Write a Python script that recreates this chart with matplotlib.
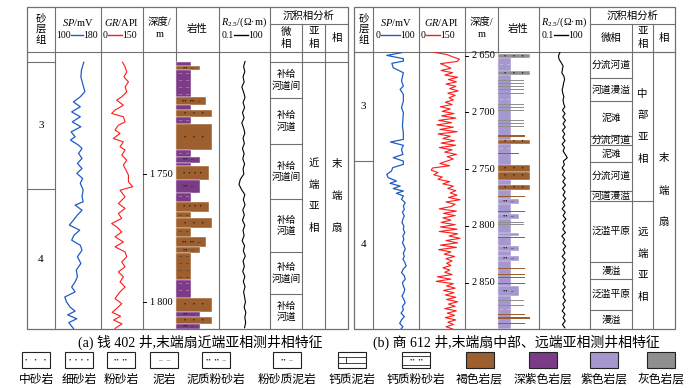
import numpy as np
import matplotlib
matplotlib.use("Agg")
import matplotlib.pyplot as plt
from matplotlib.patches import Rectangle

plt.rcParams["font.family"] = ["Liberation Serif", "Noto Sans CJK SC", "DejaVu Sans"]
plt.rcParams["mathtext.fontset"] = "custom"
plt.rcParams["mathtext.rm"] = "Liberation Serif"
plt.rcParams["mathtext.it"] = "Liberation Serif:italic"

W, H = 700, 388

# ---------------- well (a): Qian 402 ----------------
a_sp_depth = [1706.3, 1709.4, 1712.0, 1714.6, 1717.8, 1719.8, 1721.8, 1723.7, 1725.7, 1727.6,
              1729.6, 1731.5, 1733.5, 1735.4, 1736.7, 1738.7, 1740.0, 1741.9, 1743.9, 1745.8,
              1747.8, 1749.7, 1751.7, 1753.6, 1756.2, 1758.8, 1760.8, 1762.1, 1764.1, 1766.0,
              1768.0, 1769.9, 1771.9, 1773.9, 1775.8, 1777.8, 1779.7, 1782.3, 1784.9, 1787.5,
              1790.1, 1792.1, 1794.1, 1796.0, 1798.0, 1799.9, 1801.9, 1803.5, 1805.0, 1806.5,
              1808.0, 1810.3]
a_sp = [150, 146, 145, 148, 152, 144, 132, 144, 129, 144,
        130, 145, 128, 135, 127, 141, 147, 141, 147, 139,
        147, 138, 148, 144, 149, 147, 149, 135, 147, 139,
        132, 125, 143, 133, 129, 144, 147, 139, 145, 137,
        139, 135, 129, 135, 117, 120, 126, 135, 122, 138,
        124, 132]

a_gr_depth = [1706.3, 1708.1, 1710.1, 1712.0, 1714.0, 1715.9, 1717.9, 1719.8, 1721.1, 1723.1,
              1725.0, 1726.3, 1727.6, 1729.6, 1730.9, 1732.8, 1734.1, 1736.1, 1737.4, 1739.3,
              1740.6, 1742.6, 1744.5, 1746.5, 1748.4, 1750.4, 1753.0, 1754.9, 1756.3, 1758.9,
              1761.5, 1763.4, 1765.4, 1767.3, 1769.3, 1770.6, 1772.6, 1774.5, 1776.5, 1778.4,
              1780.4, 1782.3, 1784.3, 1786.2, 1788.2, 1790.1, 1792.1, 1794.1, 1796.0, 1798.6,
              1800.6, 1802.5, 1804.0, 1805.5, 1807.0, 1808.5, 1810.3]
a_gr = [77, 86, 92, 82, 98, 86, 92, 74, 56, 80,
        50, 38, 80, 86, 62, 50, 68, 44, 80, 68,
        86, 74, 92, 80, 89, 98, 98, 113, 68, 86,
        62, 86, 62, 74, 38, 56, 74, 50, 80, 50,
        86, 92, 74, 86, 62, 80, 68, 86, 68, 50,
        74, 56, 40, 70, 45, 75, 50]

# resistivity read every 2 m from 1706 m
a_rt = [3.4, 2.8, 3.3, 2.6, 3.0, 2.2, 2.8, 3.4, 2.6, 3.2,
        2.4, 3.0, 2.2, 2.8, 3.3, 2.6, 3.1, 2.4, 3.0, 2.5,
        3.2, 2.6, 2.9, 1.8, 1.5, 2.1, 3.3, 2.7, 3.4, 2.5,
        3.1, 2.4, 3.3, 2.6, 3.0, 2.3, 3.2, 2.7, 3.5, 2.6,
        3.1, 2.5, 3.3, 2.7, 3.4, 2.8, 3.2, 3.6, 3.0, 3.8,
        3.3, 3.7, 3.2]
a_rt_depth = list(range(1706, 1706 + 2 * len(a_rt), 2))

a_lith_top = [1706.1, 1707.8, 1709.4, 1720.0, 1723.0, 1725.0, 1727.6, 1730.5, 1740.6, 1743.2,
              1745.6, 1746.9, 1752.3, 1757.3, 1760.8, 1764.7, 1767.3, 1771.2, 1774.5, 1778.6,
              1780.7, 1791.4, 1798.2, 1803.9, 1805.9, 1808.4]
a_lith_base = a_lith_top[1:] + [1810.5]
a_lith_type = ["md", "stm", "md", "mst", "md", "ms", "md", "ms", "md", "stm",
               "md", "fs", "stm", "md", "fs", "md", "ms", "md", "mst", "stm",
               "md", "md", "ms", "stm", "ms", "stm"]
a_lith_color = ["dpurple", "brown", "dpurple", "brown", "dpurple", "brown", "dpurple", "brown", "dpurple", "dpurple",
                "dpurple", "brown", "dpurple", "dpurple", "brown", "brown", "brown", "brown", "brown", "brown",
                "brown", "dpurple", "brown", "dpurple", "brown", "dpurple"]

a_sand_top = [1706.3, 1755.9]
a_sand_names = ["3", "4"]
a_mf_top = [1706.3, 1720.4, 1738.4, 1759.9, 1780.4, 1797.0]
a_mf_names = ["补给\n河道间", "补给\n河道", "补给\n河道间", "补给\n河道", "补给\n河道间", "补给\n河道"]
a_sub_top = [1706.3]
a_sub_names = ["近端亚相"]
a_fac_names = ["末端扇"]
a_ticks = [1750, 1800]

# ---------------- well (b): Shang 612 ----------------
b_sp_depth = [2647.3, 2649.7, 2652.6, 2654.7, 2656.7, 2660.6, 2665.0, 2672.3, 2676.7, 2679.7,
              2684.1, 2690.0, 2695.8, 2700.2, 2706.1, 2712.0, 2717.9, 2723.8, 2726.1, 2729.0,
              2732.6, 2737.0, 2739.9, 2742.9, 2745.8, 2748.7, 2751.7, 2754.6, 2757.5, 2760.5,
              2762.5, 2764.9, 2767.2, 2769.3, 2771.3, 2773.7, 2776.6,
              2779.6, 2782.5, 2785.4, 2788.0, 2791.3, 2794.0, 2797.2, 2800.0, 2803.1, 2806.0,
              2809.0, 2811.9, 2815.0, 2818.0, 2820.7, 2824.0, 2827.0, 2829.5, 2832.0, 2835.4,
              2838.0, 2841.3, 2844.0, 2847.2, 2850.0, 2853.1, 2856.0, 2859.0, 2862.0, 2864.8,
              2868.0, 2871.0, 2874.0, 2877.0, 2880.0, 2883.0, 2886.0, 2889.0, 2891.0]
b_sp = [62, 30, 66, 66, 41, 44, 66, 62, 66, 59,
        66, 66, 62, 66, 65, 64, 66, 66, 38, 66,
        62, 65, 44, 66, 66, 43, 40, 30, 33, 51,
        37, 59, 44, 66, 51, 66, 62,
        70, 66, 68, 64, 68, 65, 63, 67, 66, 69,
        65, 67, 64, 68, 70, 66, 68, 65, 69, 72,
        66, 62, 68, 70, 64, 66, 69, 67, 63, 67,
        70, 64, 66, 61, 68, 62, 58, 65, 61]

# gamma ray read every 2 m from 2647 m
b_gr = [50, 92, 110, 132, 125, 70, 88, 104, 72, 110,
        84, 126, 96, 122, 88, 120, 100, 128, 94, 118,
        98, 112, 86, 108, 70, 102, 76, 114, 74, 120,
        64, 106, 58, 112, 68, 124, 62, 102, 78, 116,
        72, 120, 66, 108, 84, 122, 92, 112, 90, 68,
        100, 44, 40, 62, 48, 76, 62, 100, 78, 112,
        94, 120, 102, 124, 96, 134, 88, 118, 104, 66,
        122, 80, 118, 78, 104, 72, 118, 70, 124, 66,
        126, 98, 134, 88, 126, 70, 122, 64, 104, 82,
        116, 88, 108, 90, 104, 78, 100, 84, 108, 60,
        104, 56, 112, 90, 118, 80, 114, 86, 120, 90,
        126, 96, 118, 84, 122, 92, 116, 86, 120, 94,
        112, 88, 110]
b_gr_depth = list(range(2647, 2647 + 2 * len(b_gr), 2))

# resistivity read every 3 m from 2647 m
b_rt = [1.7, 1.4, 1.5, 2.0, 2.6, 2.4, 2.2, 2.9, 3.2, 2.8,
        2.6, 2.3, 2.5, 2.9, 2.6, 2.8, 3.3, 2.4, 3.4, 2.5,
        3.6, 2.6, 3.5, 2.4, 3.3, 2.5, 3.4, 2.3, 3.2, 2.6,
        3.5, 4.6, 2.7, 3.1, 2.3, 3.2, 2.4, 3.5, 2.5, 3.6,
        2.4, 3.4, 2.6, 3.7, 2.5, 3.3, 2.3, 3.5, 2.6, 3.8,
        2.4, 3.3, 2.5, 3.6, 2.2, 3.2, 2.5, 3.7, 2.6, 3.4,
        2.3, 3.5, 2.5, 3.3, 2.7, 3.6, 2.4, 3.2, 2.6, 3.5,
        2.4, 3.3, 2.6, 3.6, 2.5, 3.2, 2.3, 3.4, 2.6, 3.5,
        2.4, 3.3]
b_rt_depth = list(range(2647, 2647 + 3 * len(b_rt), 3))

b_lith_top = [2648.5, 2648.5, 2663.8, 2669.2, 2671.8, 2674.3, 2676.8, 2679.5, 2682.8, 2693.0,
              2695.6, 2698.0, 2706.8, 2709.2, 2711.8, 2714.2, 2720.2, 2724.1, 2735.8, 2746.1,
              2752.6, 2764.3, 2773.3, 2776.7, 2787.0, 2789.9, 2796.3, 2798.8, 2806.1, 2809.9,
              2817.8, 2826.6, 2836.9, 2842.8, 2845.0, 2850.2, 2853.1, 2865.8, 2869.6, 2878.1,
              2880.5, 2885.4]
b_lith_base = [2891.0, 2652.0, 2667.3, 2670.0, 2672.6, 2675.1, 2677.6, 2680.3, 2683.6, 2693.8,
               2696.4, 2698.8, 2707.6, 2710.0, 2712.6, 2715.0, 2721.8, 2727.6, 2736.8, 2752.6,
               2759.4, 2768.3, 2774.2, 2781.1, 2787.8, 2794.3, 2797.1, 2799.6, 2809.0, 2810.7,
               2822.2, 2831.0, 2837.7, 2843.6, 2845.8, 2851.0, 2861.9, 2866.6, 2870.4, 2878.9,
               2882.2, 2886.2]
b_lith_type = ["md", "ms", "ms", "cst", "cst", "cst", "cst", "cst", "cst", "cst",
               "cst", "cst", "cst", "cst", "cst", "cst", "st", "ms", "stm", "ms",
               "ms", "ms", "st", "stm", "st", "stm", "cst", "cst", "stm", "st",
               "stm", "stm", "st", "st", "st", "st", "stm", "cst", "cst", "st",
               "ms", "st"]
b_lith_color = ["purple", "gray", "gray", "gray", "gray", "gray", "gray", "gray", "gray", "gray",
                "gray", "gray", "gray", "gray", "gray", "gray", "brown", "brown", "brown", "brown",
                "brown", "brown", "brown", "purple", "brown", "purple", "gray", "gray", "purple", "brown",
                "purple", "purple", "brown", "brown", "brown", "brown", "purple", "gray", "gray", "brown",
                "brown", "brown"]

b_sand_top = [2646.7, 2742.6]
b_sand_names = ["3", "4"]
b_mf_top = [2646.7, 2669.9, 2689.7, 2720.5, 2729.0, 2744.0, 2769.0, 2777.9, 2831.7, 2847.2, 2874.0]
b_mf_names = ["分流河道", "河道漫溢", "泥滩", "分流河道", "泥滩", "分流河道", "河道漫溢",
              "泛滥平原", "漫溢", "泛滥平原", "漫溢"]
b_sub_top = [2646.7, 2777.9]
b_sub_names = ["中部亚相", "远端亚相"]
b_fac_names = ["末端扇"]
b_ticks = [2650, 2700, 2750, 2800, 2850]

legend_names = ["中砂岩", "细砂岩", "粉砂岩", "泥岩", "泥质粉砂岩", "粉砂质泥岩",
                "钙质泥岩", "钙质粉砂岩", "褐色岩层", "深紫色岩层", "紫色岩层", "灰色岩层"]
legend_kinds = ["ms", "fs", "st", "md", "mst", "stm", "cm", "cst",
                "brown", "dpurple", "purple", "gray"]

# ---------------- styles ----------------
COLORS = {"brown": "#9c5f2d", "dpurple": "#7c3b86", "purple": "#a697cf", "gray": "#8f8f8f"}
WIDTH = {"ms": 0.84, "fs": 0.77, "st": 0.70, "mst": 0.70, "stm": 0.56, "md": 0.35,
         "cst": 0.68, "cm": 0.5}
SYMBOL = {"ms": "•    •    •", "fs": "•  •  •  •", "st": "••  ••", "mst": "••  ••  –",
          "stm": "••  –", "md": "–   –", "cst": "••  ••", "cm": ""}
LINE = "#707070"
BLUE = "#1f5cc4"
RED = "#ff1a1a"
TOP, HEAD, SUB, BOT = 7, 52, 24, 329

fig = plt.figure(figsize=(W / 100, H / 100), dpi=100)
ov = fig.add_axes([0, 0, 1, 1])
ov.set_xlim(0, W)
ov.set_ylim(H, 0)
ov.axis("off")


def px_axes(x0, x1, y0, y1):
    ax = fig.add_axes([x0 / W, 1 - y1 / H, (x1 - x0) / W, (y1 - y0) / H])
    ax.patch.set_alpha(0)
    for s in ax.spines.values():
        s.set_visible(False)
    ax.set_xticks([])
    ax.set_yticks([])
    return ax


def stack(xc, yc, lines, step, **kw):
    n = len(lines)
    for i, s in enumerate(lines):
        ov.text(xc, yc + (i - (n - 1) / 2) * step, s, ha="center", va="center", **kw)


def draw_well(w):
    x = w["cols"]
    d0, d1 = w["depth_lim"]
    ppm = (BOT - HEAD) / (d1 - d0)
    ypix = lambda d: HEAD + (d - d0) * ppm

    # table frame
    ov.add_patch(Rectangle((x[0], TOP), x[-1] - x[0], BOT - TOP, fill=False, ec=LINE, lw=0.9))
    ov.plot([x[0], x[-1]], [HEAD, HEAD], color=LINE, lw=0.8)
    ov.plot([x[6], x[-1]], [SUB, SUB], color=LINE, lw=0.8)
    for i in range(1, 9):
        ov.plot([x[i], x[i]], [SUB if i in (7, 8) else TOP, BOT], color=LINE, lw=0.8)

    cx = [(x[i] + x[i + 1]) / 2 for i in range(9)]
    fs = 7.5
    stack(cx[0], 29, list("砂层组"), 11, fontsize=fs)
    ov.text(cx[1], 22, r"$SP$/mV", ha="center", va="center", fontsize=fs)
    ov.text(cx[2], 22, r"$GR$/API", ha="center", va="center", fontsize=fs)
    stack(cx[3], 28.5, ["深度/", "m"], 12.5, fontsize=fs)
    ov.text(cx[4], 29, "岩性", ha="center", va="center", fontsize=fs)
    ov.text(cx[5], 22, r"$R_{2.5}$/(Ω·m)", ha="center", va="center", fontsize=fs)
    ov.text((x[6] + x[9]) / 2, 15.5, "沉积相分析", ha="center", va="center", fontsize=fs)
    if w["mf_stacked"]:
        stack(cx[6], 38, ["微", "相"], 12, fontsize=fs)
    else:
        ov.text(cx[6], 38, "微相", ha="center", va="center", fontsize=fs)
    stack(cx[7], 38, ["亚", "相"], 12, fontsize=fs)
    ov.text(cx[8], 38, "相", ha="center", va="center", fontsize=fs)
    for lo, hi, l0, l1, col in w["scales"]:
        ov.plot([l0, l1], [35, 35], color=col, lw=1.0)
        ov.text(l0 - 0.5, 35.5, lo, ha="right", va="center", fontsize=7)
        ov.text(l1 + 0.5, 35.5, hi, ha="left", va="center", fontsize=7)

    # curves
    ax = px_axes(x[1], x[2], HEAD, BOT)
    ax.set_xlim(*w["sp_lim"])
    ax.set_ylim(d1, d0)
    ax.plot(w["sp"], w["sp_depth"], color=BLUE, lw=0.9)

    ax = px_axes(x[2], x[3], HEAD, BOT)
    ax.set_xlim(0, 150)
    ax.set_ylim(d1, d0)
    ax.plot(w["gr"], w["gr_depth"], color=RED, lw=0.8)

    ax = px_axes(x[5], x[6], HEAD, BOT)
    ax.set_xscale("log")
    ax.set_xlim(0.1, 100)
    ax.set_ylim(d1, d0)
    ax.set_xticks([])
    ax.minorticks_off()
    ax.plot(w["rt"], w["rt_depth"], color="k", lw=0.8)

    # depth column
    ax = px_axes(x[3], x[4], HEAD, BOT)
    ax.set_xlim(0, 1)
    ax.set_ylim(d1, d0)
    for d in w["ticks"]:
        ax.plot([0, 0.09], [d, d], color="k", lw=0.7)
        ax.text(0.9, d, f"{d // 1000}\u2009{d % 1000:03d}", ha="right", va="center", fontsize=7.5)

    # lithology column
    ax = px_axes(x[4], x[5], HEAD, BOT)
    ax.set_xlim(0, 1)
    ax.set_ylim(d1, d0)
    layers = list(zip(w["lith_top"], w["lith_base"], w["lith_type"], w["lith_color"]))
    for i, (t, b, k, c) in enumerate(layers):
        wd = WIDTH[k] * w["lith_scale"]
        thick = (b - t) * ppm
        ax.barh((t + b) / 2, wd, height=b - t, left=0, color=COLORS[c],
                ec="white" if thick > 3 else "none", lw=0.3, zorder=2 * i + 1)
        if thick < 3.5:
            continue
        if k == "md":
            sc = "#1a1a1a" if c == "brown" else ("#f2eaf5" if c == "dpurple" else "white")
            step = 7 / ppm
            rows = np.arange(t + step / 2, b, step)
            # keep background dashes out of the layers drawn over them
            pad = 2.5 / ppm
            rows = [r for r in rows
                    if not any(t2 - pad < r < b2 + pad for t2, b2, _, _ in layers[i + 1:])]
        else:
            sc = "#1a1a1a"
            rows = [(t + b) / 2]
        for r in rows:
            ax.text(wd / 2, r, SYMBOL[k], ha="center", va="center", fontsize=4.5,
                    color=sc, zorder=2 * i + 2)

    # sand group column
    for d, name, nxt in zip(w["sand_top"], w["sand_names"], w["sand_top"][1:] + [d1]):
        ov.plot([x[0], x[1]], [ypix(d), ypix(d)], color=LINE, lw=0.8)
        ov.text(cx[0], ypix((d + nxt) / 2), name, ha="center", va="center", fontsize=8)

    # facies columns
    for i, (d, name, nxt) in enumerate(zip(w["mf_top"], w["mf_names"], w["mf_top"][1:] + [d1])):
        ov.plot([x[6], x[9] if i == 0 else x[7]], [ypix(d), ypix(d)], color=LINE, lw=0.8)
        stack(cx[6], ypix((d + nxt) / 2), name.split("\n"), 11, fontsize=7)
    for i, (d, name, nxt) in enumerate(zip(w["sub_top"], w["sub_names"], w["sub_top"][1:] + [d1])):
        if i > 0:
            ov.plot([x[7], x[8]], [ypix(d), ypix(d)], color=LINE, lw=0.8)
        stack(cx[7], ypix((d + nxt) / 2), list(name), 21.5, fontsize=7.5)
    stack(cx[8], ypix((w["sub_top"][0] + d1) / 2), list(w["fac_names"][0]), 32, fontsize=7.5)

    ov.text(w["cap_x"], 342, w["caption"], ha="center", va="center", fontsize=10)


draw_well(dict(
    cols=[27, 55, 101, 143, 176, 219, 270, 302, 325, 348], depth_lim=(1702.3, 1810.5),
    sp=a_sp, sp_depth=a_sp_depth, sp_lim=(100, 180), gr=a_gr, gr_depth=a_gr_depth,
    rt=a_rt, rt_depth=a_rt_depth, ticks=a_ticks,
    lith_top=a_lith_top, lith_base=a_lith_base, lith_type=a_lith_type, lith_color=a_lith_color,
    lith_scale=1.0, sand_top=a_sand_top, sand_names=a_sand_names,
    mf_top=a_mf_top, mf_names=a_mf_names, sub_top=a_sub_top, sub_names=a_sub_names,
    fac_names=a_fac_names, mf_stacked=True,
    scales=[("100", "180", 71, 83, BLUE), ("0", "150", 108, 122, RED), ("0.1", "100", 234, 248, "k")],
    caption="(a) 钱 402 井,末端扇近端亚相测井相特征", cap_x=200))

draw_well(dict(
    cols=[354, 373, 419, 465, 498, 539, 590, 632, 653, 675], depth_lim=(2646.7, 2891.0),
    sp=b_sp, sp_depth=b_sp_depth, sp_lim=(0, 100), gr=b_gr, gr_depth=b_gr_depth,
    rt=b_rt, rt_depth=b_rt_depth, ticks=b_ticks,
    lith_top=b_lith_top, lith_base=b_lith_base, lith_type=b_lith_type, lith_color=b_lith_color,
    lith_scale=0.93, sand_top=b_sand_top, sand_names=b_sand_names,
    mf_top=b_mf_top, mf_names=b_mf_names, sub_top=b_sub_top, sub_names=b_sub_names,
    fac_names=b_fac_names, mf_stacked=False,
    scales=[("0", "100", 381, 400, BLUE), ("0", "150", 426, 440, RED), ("0.1", "100", 554, 568, "k")],
    caption="(b) 商 612 井,末端扇中部、远端亚相测井相特征", cap_x=516))

# legend row
leg_x = [36, 79, 121, 164, 216, 287, 352, 416, 479.5, 542.5, 603.5, 660.5]
for xc, name, kind in zip(leg_x, legend_names, legend_kinds):
    ov.add_patch(Rectangle((xc - 14, 352), 28, 16, fc=COLORS.get(kind, "white"), ec="#222222", lw=0.8))
    if kind == "cm":
        ov.plot([xc - 14, xc + 14], [357, 357], color="#222222", lw=0.6)
        ov.plot([xc - 14, xc + 14], [362.5, 362.5], color="#222222", lw=0.6)
        ov.plot([xc - 6, xc - 6], [357, 362.5], color="#222222", lw=0.6)
    elif kind == "cst":
        ov.plot([xc - 14, xc + 14], [356, 356], color="#222222", lw=0.6)
        ov.plot([xc - 14, xc + 14], [365, 365], color="#222222", lw=0.6)
        ov.text(xc, 360.5, SYMBOL[kind], ha="center", va="center", fontsize=5, color="#222222")
    elif kind in SYMBOL:
        ov.text(xc, 360, SYMBOL[kind], ha="center", va="center", fontsize=5, color="#222222")
    ov.text(xc, 380, name, ha="center", va="center", fontsize=8.5)

fig.savefig("out.png", dpi=100, facecolor="white")
